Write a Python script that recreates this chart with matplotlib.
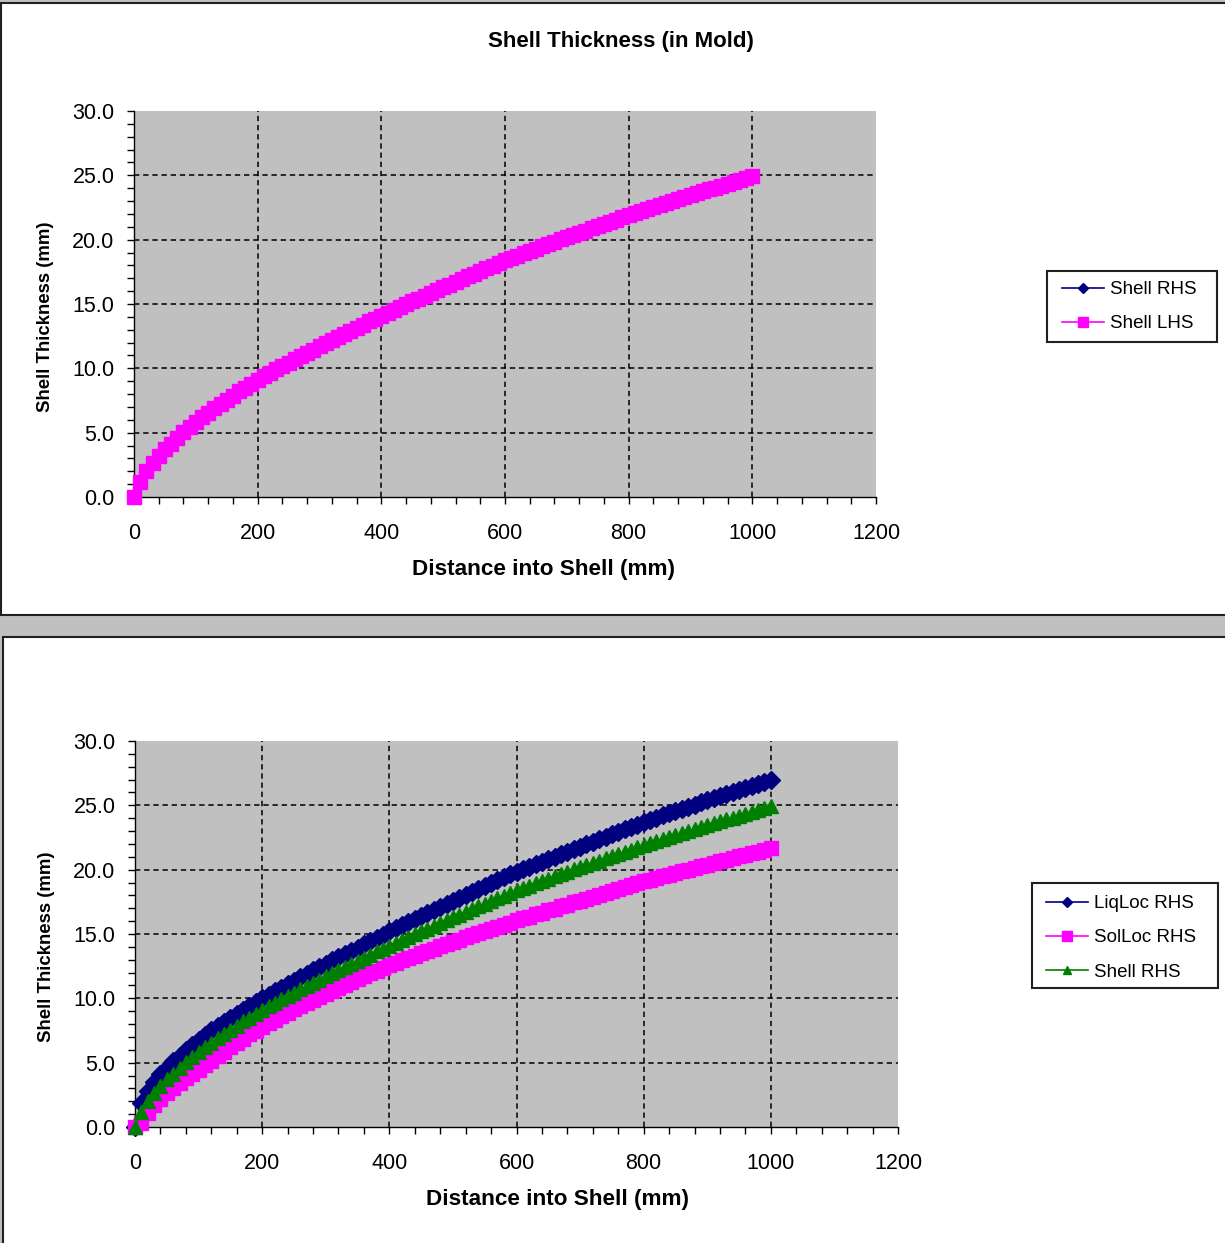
import matplotlib
matplotlib.use("Agg")
import matplotlib.pyplot as plt
from matplotlib.lines import Line2D
from matplotlib.patches import Rectangle
from matplotlib.ticker import MultipleLocator, FormatStrFormatter

plt.rcParams['font.family'] = ['Liberation Sans', 'DejaVu Sans']

# distance into shell (mm), one reading every 10 mm
dist = list(range(0, 1010, 10))

# shell thickness (mm) - LHS and RHS read the same
shell = [0.00, 1.15, 2.00, 2.65, 3.20, 3.70, 4.15, 4.60, 5.05, 5.45, 5.85,
         6.21, 6.56, 6.90, 7.23, 7.56, 7.88, 8.20, 8.51, 8.81, 9.10,
         9.37, 9.64, 9.91, 10.17, 10.43, 10.69, 10.95, 11.20, 11.45, 11.70,
         11.95, 12.20, 12.44, 12.68, 12.92, 13.16, 13.40, 13.64, 13.87, 14.10,
         14.32, 14.54, 14.76, 14.98, 15.20, 15.42, 15.64, 15.86, 16.08, 16.30,
         16.51, 16.72, 16.93, 17.14, 17.35, 17.56, 17.77, 17.98, 18.19, 18.40,
         18.58, 18.76, 18.94, 19.12, 19.30, 19.48, 19.66, 19.84, 20.02, 20.20,
         20.37, 20.54, 20.71, 20.88, 21.05, 21.22, 21.39, 21.56, 21.73, 21.90,
         22.05, 22.21, 22.36, 22.52, 22.67, 22.83, 22.98, 23.14, 23.29, 23.45,
         23.60, 23.75, 23.90, 24.05, 24.20, 24.35, 24.50, 24.65, 24.80, 24.95]

liqloc = [0.00, 1.90, 2.80, 3.50, 4.10, 4.60, 5.10, 5.55, 6.00, 6.40, 6.80,
          7.16, 7.51, 7.85, 8.18, 8.50, 8.82, 9.13, 9.43, 9.72, 10.00,
          10.28, 10.56, 10.83, 11.10, 11.37, 11.64, 11.91, 12.18, 12.44, 12.70,
          12.95, 13.20, 13.45, 13.70, 13.95, 14.20, 14.45, 14.70, 14.95, 15.20,
          15.44, 15.68, 15.92, 16.16, 16.40, 16.64, 16.88, 17.12, 17.36, 17.60,
          17.83, 18.05, 18.28, 18.50, 18.73, 18.95, 19.18, 19.40, 19.63, 19.85,
          20.05, 20.24, 20.44, 20.63, 20.83, 21.02, 21.22, 21.41, 21.61, 21.80,
          21.99, 22.18, 22.37, 22.56, 22.75, 22.94, 23.13, 23.32, 23.51, 23.70,
          23.87, 24.04, 24.21, 24.38, 24.55, 24.72, 24.89, 25.06, 25.23, 25.40,
          25.56, 25.71, 25.87, 26.02, 26.18, 26.33, 26.49, 26.64, 26.80, 26.95]

solloc = [0.00, 0.30, 1.10, 1.70, 2.20, 2.65, 3.05, 3.45, 3.80, 4.10, 4.40,
          4.78, 5.15, 5.51, 5.86, 6.20, 6.54, 6.87, 7.19, 7.50, 7.80,
          8.08, 8.35, 8.62, 8.88, 9.14, 9.39, 9.64, 9.88, 10.12, 10.35,
          10.58, 10.81, 11.04, 11.27, 11.50, 11.72, 11.94, 12.16, 12.38, 12.60,
          12.78, 12.96, 13.14, 13.32, 13.50, 13.68, 13.86, 14.04, 14.22, 14.40,
          14.57, 14.73, 14.90, 15.06, 15.23, 15.39, 15.56, 15.72, 15.89, 16.05,
          16.21, 16.36, 16.52, 16.67, 16.83, 16.98, 17.14, 17.29, 17.45, 17.60,
          17.75, 17.90, 18.05, 18.20, 18.35, 18.50, 18.65, 18.80, 18.95, 19.10,
          19.23, 19.36, 19.49, 19.62, 19.75, 19.88, 20.01, 20.14, 20.27, 20.40,
          20.53, 20.65, 20.78, 20.90, 21.03, 21.15, 21.28, 21.40, 21.53, 21.65]

x_grid = [200, 400, 600, 800, 1000]
y_grid = [5, 10, 15, 20, 25]

NAVY = '#000080'
PINK = '#ff00ff'
GREEN = '#008000'
GRAY = '#c0c0c0'

W, H = 1225, 1243
fig = plt.figure(figsize=(W / 100, H / 100), dpi=100, facecolor=GRAY)


def fx(x):
    return x / W


def fy(y):
    return 1 - y / H


def box(x0, y0, x1, y1, lw=1.5, face='white', z=-5):
    # rectangle in pixel coords (y measured from top)
    fig.patches.append(Rectangle((fx(x0), fy(y1)), (x1 - x0) / W, (y1 - y0) / H,
                                 transform=fig.transFigure, facecolor=face,
                                 edgecolor='#202020', lw=lw, zorder=z))


# white chart panels
box(1, 3, 1240, 615)
box(3, 637, 1240, 1260)


def style_axes(ax):
    ax.set_zorder(2)
    ax.set_facecolor(GRAY)
    ax.set_xlim(0, 1200)
    ax.set_ylim(0, 30)
    ax.xaxis.set_major_locator(MultipleLocator(200))
    ax.xaxis.set_minor_locator(MultipleLocator(40))
    ax.yaxis.set_major_locator(MultipleLocator(5))
    ax.yaxis.set_minor_locator(MultipleLocator(1))
    ax.yaxis.set_major_formatter(FormatStrFormatter('%.1f'))
    # dashed gridlines, not on the plot-area edges
    for v in x_grid:
        ax.axvline(v, color='black', linestyle=(0, (3.5, 2.5)), lw=1.1, zorder=1)
    for v in y_grid:
        ax.axhline(v, color='black', linestyle=(0, (3.5, 2.5)), lw=1.1, zorder=1)
    for s in ['top', 'right']:
        ax.spines[s].set_visible(False)
    for s in ['left', 'bottom']:
        ax.spines[s].set_color('black')
        ax.spines[s].set_linewidth(1.0)
    ax.tick_params(which='both', direction='out', length=5, width=1, labelsize=15.5, colors='black')
    ax.tick_params(axis='x', pad=14)
    ax.tick_params(axis='y', pad=9)


def legend_at(handles, labels, x0, y0, x1, y1, hx, ty):
    box(x0, y0, x1, y1, z=3)
    lg = fig.legend(handles, labels, loc='upper left', bbox_to_anchor=(fx(hx), fy(ty)),
                    fontsize=13.5, frameon=False, handlelength=2.25, handletextpad=0.3,
                    labelspacing=0.92, borderpad=0, borderaxespad=0)
    lg.set_zorder(4)
    return lg


# ---- top chart: shell thickness in mold
ax1 = fig.add_axes([fx(134), fy(497), (876 - 134) / W, (497 - 111) / H])
style_axes(ax1)
ax1.plot(dist, shell, color=NAVY, lw=1, marker='D', ms=6, clip_on=False, zorder=3)
ax1.plot(dist, shell, color=PINK, lw=1, marker='s', ms=9.5, mec=PINK, clip_on=False, zorder=4)

fig.text(fx(621), fy(42), 'Shell Thickness (in Mold)', ha='center', va='center', fontsize=16, fontweight='bold')
fig.text(fx(544), fy(569), 'Distance into Shell (mm)', ha='center', va='center', fontsize=16.2, fontweight='bold')
fig.text(fx(45), fy(317), 'Shell Thickness (mm)', ha='center', va='center', rotation=90, fontsize=13.4, fontweight='bold')

h1 = [Line2D([], [], color=NAVY, lw=1.2, marker='D', ms=5),
      Line2D([], [], color=PINK, lw=1.2, marker='s', ms=7)]
legend_at(h1, ['Shell RHS', 'Shell LHS'], 1047, 271, 1217, 342, 1062, 281)

# ---- bottom chart: liquidus / solidus / shell
ax2 = fig.add_axes([fx(135), fy(1127), (898 - 135) / W, (1127 - 741) / H])
style_axes(ax2)
ax2.plot(dist, liqloc, color=NAVY, lw=1, marker='D', ms=9, clip_on=False, zorder=3)
ax2.plot(dist, solloc, color=PINK, lw=1, marker='s', ms=9.5, mec=PINK, clip_on=False, zorder=4)
ax2.plot(dist, shell, color=GREEN, lw=1, marker='^', ms=9.5, clip_on=False, zorder=5)

fig.text(fx(558), fy(1199), 'Distance into Shell (mm)', ha='center', va='center', fontsize=16.2, fontweight='bold')
fig.text(fx(47), fy(947), 'Shell Thickness (mm)', ha='center', va='center', rotation=90, fontsize=13.4, fontweight='bold')

h2 = [Line2D([], [], color=NAVY, lw=1.2, marker='D', ms=5),
      Line2D([], [], color=PINK, lw=1.2, marker='s', ms=7),
      Line2D([], [], color=GREEN, lw=1.2, marker='^', ms=6)]
legend_at(h2, ['LiqLoc RHS', 'SolLoc RHS', 'Shell RHS'], 1032, 883, 1218, 988, 1046, 895)

fig.savefig('out.png', dpi=100, facecolor=GRAY)
